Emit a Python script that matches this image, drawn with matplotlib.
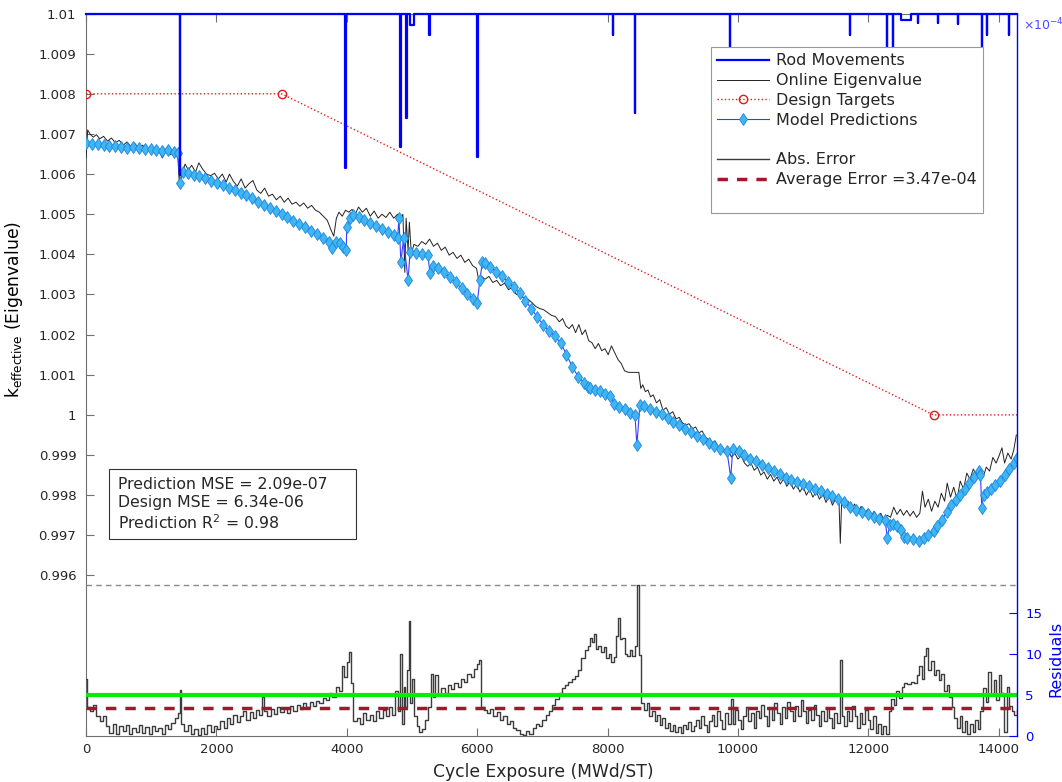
import numpy as np
import matplotlib.pyplot as plt
from matplotlib.lines import Line2D
from matplotlib.patches import Rectangle
from matplotlib.ticker import FormatStrFormatter

plt.rcParams["font.family"] = "DejaVu Sans"
plt.rcParams["mathtext.default"] = "regular"

# ----------------------------------------------------------------------
# data
# ----------------------------------------------------------------------
design_x = [0, 3000, 13000, 14280]
design_k = [1.008, 1.008, 1.000, 1.000]

# rod movement trace: baseline 1.01 with insertion dips
rod_base = 1.01
rod_spike_x = [1434, 3972, 4815, 4907, 4968, 5260, 5996, 8081, 8418, 9875,
               11715, 12283, 12375, 12497, 12758, 13065, 13371, 13739, 13816, 14153]
rod_spike_w = [10, 10, 10, 10, 60, 10, 10, 10, 10, 10,
               10, 10, 10, 154, 10, 10, 10, 10, 10, 10]
rod_spike_low = [1.00597, 1.00615, 1.00667, 1.00739, 1.00971, 1.00946, 1.00642, 1.00946, 1.00752, 1.0088,
                 1.00946, 1.0085, 1.0085, 1.00984, 1.00976, 1.00976, 1.00974, 1.00772, 1.00946, 1.00946]

online_x = [0, 25, 60, 110, 160, 210, 270, 330, 390, 450,
            510, 570, 630, 690, 750, 810, 870, 930, 990, 1050,
            1110, 1170, 1230, 1290, 1350, 1410, 1430, 1470, 1520, 1570,
            1620, 1680, 1730, 1790, 1850, 1910, 1970, 2030, 2090, 2150,
            2200, 2260, 2320, 2380, 2440, 2500, 2560, 2620, 2680, 2740,
            2800, 2860, 2920, 2980, 3040, 3100, 3160, 3220, 3280, 3340,
            3400, 3460, 3520, 3580, 3640, 3700, 3760, 3800, 3840, 3880,
            3930, 3980, 4030, 4080, 4130, 4180, 4240, 4300, 4360, 4420,
            4480, 4540, 4600, 4660, 4720, 4780, 4830, 4860, 4890, 4910,
            4940, 4960, 4990, 5030, 5090, 5150, 5210, 5270, 5330, 5390,
            5450, 5510, 5570, 5630, 5690, 5750, 5810, 5870, 5930, 5990,
            6030, 6070, 6120, 6180, 6240, 6300, 6360, 6420, 6480, 6540,
            6600, 6660, 6720, 6780, 6840, 6900, 6960, 7020, 7080, 7140,
            7200, 7260, 7310, 7360, 7410, 7460, 7510, 7560, 7610, 7660,
            7710, 7760, 7810, 7860, 7910, 7960, 8010, 8060, 8110, 8160,
            8210, 8260, 8320, 8400, 8480, 8510, 8540, 8580, 8620, 8660,
            8700, 8750, 8800, 8850, 8900, 8950, 9000, 9050, 9100, 9150,
            9200, 9250, 9300, 9350, 9400, 9450, 9500, 9550, 9600, 9650,
            9700, 9750, 9800, 9850, 9900, 9950, 10000, 10050, 10100, 10150,
            10200, 10250, 10300, 10350, 10400, 10450, 10500, 10550, 10600, 10650,
            10700, 10750, 10800, 10850, 10900, 10950, 11000, 11050, 11100, 11150,
            11200, 11250, 11300, 11350, 11400, 11450, 11500, 11550, 11570, 11590,
            11640, 11690, 11740, 11790, 11840, 11890, 11940, 11990, 12040, 12090,
            12140, 12190, 12240, 12290, 12340, 12390, 12440, 12490, 12540, 12590,
            12640, 12690, 12740, 12790, 12830, 12870, 12920, 12970, 13020, 13070,
            13120, 13170, 13210, 13260, 13310, 13360, 13410, 13460, 13510, 13560,
            13610, 13660, 13710, 13760, 13810, 13860, 13910, 13960, 14010, 14050,
            14090, 14140, 14190, 14230, 14270]
online_k = [1.00640, 1.00710, 1.00700, 1.00692, 1.00698, 1.00688, 1.00694, 1.00682, 1.00690, 1.00678,
            1.00684, 1.00672, 1.00680, 1.00668, 1.00676, 1.00664, 1.00672, 1.00658, 1.00668, 1.00654,
            1.00662, 1.00640, 1.00660, 1.00648, 1.00655, 1.00640, 1.00580, 1.00600, 1.00625, 1.00610,
            1.00622, 1.00605, 1.00628, 1.00612, 1.00600, 1.00596, 1.00602, 1.00588, 1.00600, 1.00580,
            1.00600, 1.00582, 1.00570, 1.00588, 1.00565, 1.00576, 1.00584, 1.00560, 1.00552, 1.00565,
            1.00545, 1.00550, 1.00536, 1.00545, 1.00530, 1.00540, 1.00525, 1.00530, 1.00520, 1.00528,
            1.00515, 1.00522, 1.00510, 1.00505, 1.00495, 1.00485, 1.00460, 1.00445, 1.00490, 1.00505,
            1.00495, 1.00510, 1.00505, 1.00512, 1.00500, 1.00518, 1.00505, 1.00515, 1.00495, 1.00508,
            1.00490, 1.00500, 1.00492, 1.00505, 1.00490, 1.00500, 1.00485, 1.00500, 1.00355, 1.00490,
            1.00410, 1.00480, 1.00400, 1.00425, 1.00420, 1.00432, 1.00425, 1.00438, 1.00420, 1.00428,
            1.00410, 1.00418, 1.00398, 1.00405, 1.00390, 1.00398, 1.00380, 1.00388, 1.00372, 1.00365,
            1.00330, 1.00345, 1.00338, 1.00345, 1.00330, 1.00335, 1.00322, 1.00328, 1.00312, 1.00318,
            1.00300, 1.00302, 1.00290, 1.00288, 1.00280, 1.00270, 1.00265, 1.00262, 1.00255, 1.00248,
            1.00245, 1.00232, 1.00240, 1.00222, 1.00215, 1.00225, 1.00205, 1.00225, 1.00200, 1.00212,
            1.00185, 1.00180, 1.00165, 1.00178, 1.00160, 1.00165, 1.00150, 1.00172, 1.00155, 1.00138,
            1.00128, 1.00110, 1.00106, 1.00106, 1.00106, 1.00066, 1.00075, 1.00058, 1.00062, 1.00045,
            1.00050, 1.00030, 1.00038, 1.00012, 1.00018, 1.00002, 1.00008, 0.99990, 0.99994, 0.99980,
            0.99975, 0.99978, 0.99965, 0.99970, 0.99955, 0.99960, 0.99945, 0.99938, 0.99930, 0.99935,
            0.99920, 0.99915, 0.99905, 0.99912, 0.99895, 0.99905, 0.99890, 0.99898, 0.99880, 0.99872,
            0.99880, 0.99862, 0.99870, 0.99850, 0.99858, 0.99840, 0.99852, 0.99835, 0.99845, 0.99828,
            0.99840, 0.99822, 0.99835, 0.99815, 0.99828, 0.99808, 0.99822, 0.99800, 0.99815, 0.99795,
            0.99810, 0.99790, 0.99805, 0.99782, 0.99798, 0.99775, 0.99792, 0.99785, 0.99680, 0.99780,
            0.99772, 0.99785, 0.99765, 0.99778, 0.99758, 0.99772, 0.99752, 0.99765, 0.99748, 0.99760,
            0.99742, 0.99755, 0.99738, 0.99750, 0.99745, 0.99770, 0.99752, 0.99765, 0.99750, 0.99762,
            0.99748, 0.99760, 0.99745, 0.99755, 0.99810, 0.99770, 0.99790, 0.99760, 0.99785, 0.99770,
            0.99805, 0.99785, 0.99830, 0.99795, 0.99820, 0.99790, 0.99835, 0.99815, 0.99855, 0.99840,
            0.99865, 0.99850, 0.99862, 0.99845, 0.99870, 0.99860, 0.99894, 0.99880, 0.99900, 0.99918,
            0.99880, 0.99905, 0.99890, 0.99912, 0.99950]

model_x = [0, 90, 180, 270, 360, 450, 540, 630, 720, 810,
           900, 990, 1080, 1170, 1260, 1350, 1410, 1440, 1480, 1560,
           1650, 1740, 1830, 1920, 2010, 2100, 2190, 2280, 2370, 2460,
           2550, 2640, 2730, 2820, 2910, 3000, 3090, 3180, 3270, 3360,
           3450, 3540, 3630, 3720, 3770, 3830, 3890, 3940, 3990, 4000,
           4050, 4090, 4180, 4270, 4360, 4450, 4540, 4630, 4720, 4780,
           4800, 4830, 4870, 4940, 4970, 5060, 5150, 5245, 5275, 5330,
           5400, 5490, 5580, 5670, 5760, 5850, 5930, 6000, 6040, 6080,
           6120, 6200, 6290, 6380, 6470, 6560, 6650, 6740, 6830, 6920,
           7010, 7100, 7190, 7280, 7370, 7460, 7550, 7640, 7700, 7730,
           7800, 7880, 7960, 8040, 8100, 8180, 8260, 8340, 8420, 8450,
           8495, 8560, 8650, 8740, 8830, 8920, 9010, 9100, 9190, 9280,
           9370, 9460, 9550, 9640, 9730, 9830, 9890, 9920, 10010, 10100,
           10190, 10280, 10370, 10460, 10550, 10640, 10730, 10820, 10910, 11000,
           11090, 11180, 11270, 11360, 11450, 11540, 11630, 11720, 11810, 11900,
           11990, 12080, 12170, 12260, 12290, 12330, 12380, 12440, 12500, 12540,
           12600, 12690, 12780, 12850, 12920, 13000, 13060, 13130, 13200, 13270,
           13340, 13410, 13480, 13550, 13620, 13700, 13720, 13740, 13770, 13820,
           13880, 13950, 14020, 14090, 14160, 14230, 14285]
model_k = [1.00677, 1.00675, 1.00676, 1.00672, 1.00670, 1.00671, 1.00668, 1.00666, 1.00667, 1.00664,
           1.00662, 1.00663, 1.00660, 1.00657, 1.00659, 1.00655, 1.00652, 1.00577, 1.00605, 1.00602,
           1.00598, 1.00596, 1.00590, 1.00584, 1.00578, 1.00572, 1.00566, 1.00560, 1.00553, 1.00547,
           1.00540, 1.00531, 1.00523, 1.00515, 1.00507, 1.00500, 1.00492, 1.00484, 1.00476, 1.00468,
           1.00459, 1.00450, 1.00440, 1.00430, 1.00416, 1.00432, 1.00428, 1.00418, 1.00410, 1.00468,
           1.00490, 1.00498, 1.00492, 1.00485, 1.00478, 1.00471, 1.00464, 1.00456, 1.00448, 1.00441,
           1.00490, 1.00380, 1.00440, 1.00335, 1.00405, 1.00403, 1.00401, 1.00398, 1.00353, 1.00372,
           1.00365, 1.00355, 1.00343, 1.00330, 1.00315, 1.00302, 1.00290, 1.00278, 1.00335, 1.00380,
           1.00378, 1.00368, 1.00357, 1.00345, 1.00332, 1.00318, 1.00303, 1.00285, 1.00265, 1.00244,
           1.00225, 1.00210, 1.00196, 1.00180, 1.00150, 1.00120, 1.00095, 1.00080, 1.00070, 1.00066,
           1.00063, 1.00060, 1.00052, 1.00047, 1.00028, 1.00020, 1.00014, 1.00006, 1.00000, 0.99924,
           1.00024, 1.00022, 1.00015, 1.00008, 1.00002, 0.99993, 0.99983, 0.99975, 0.99966, 0.99958,
           0.99948, 0.99939, 0.99930, 0.99923, 0.99916, 0.99911, 0.99844, 0.99916, 0.99910, 0.99900,
           0.99891, 0.99884, 0.99876, 0.99868, 0.99860, 0.99852, 0.99844, 0.99838, 0.99833, 0.99827,
           0.99822, 0.99816, 0.99811, 0.99804, 0.99797, 0.99790, 0.99782, 0.99770, 0.99764, 0.99758,
           0.99752, 0.99746, 0.99741, 0.99737, 0.99694, 0.99725, 0.99728, 0.99722, 0.99714, 0.99697,
           0.99694, 0.99690, 0.99687, 0.99694, 0.99700, 0.99712, 0.99722, 0.99738, 0.99758, 0.99775,
           0.99788, 0.99800, 0.99815, 0.99830, 0.99845, 0.99860, 0.99850, 0.99769, 0.99800, 0.99808,
           0.99816, 0.99825, 0.99836, 0.99850, 0.99865, 0.99880, 0.99893]

# absolute error, in units of 1e-4
resid_x = [0, 20, 60, 110, 160, 210, 260, 310, 360, 410,
           460, 510, 560, 610, 660, 710, 760, 810, 860, 910,
           960, 1010, 1060, 1110, 1160, 1210, 1260, 1310, 1360, 1410,
           1440, 1460, 1510, 1560, 1610, 1660, 1710, 1760, 1810, 1860,
           1910, 1960, 2010, 2060, 2110, 2160, 2210, 2260, 2310, 2360,
           2410, 2460, 2510, 2560, 2610, 2660, 2700, 2730, 2780, 2830,
           2880, 2930, 2980, 3030, 3080, 3130, 3180, 3230, 3280, 3330,
           3380, 3430, 3480, 3530, 3580, 3630, 3680, 3730, 3780, 3830,
           3880, 3920, 3960, 4000, 4030, 4060, 4100, 4150, 4200, 4250,
           4300, 4350, 4400, 4450, 4500, 4550, 4600, 4650, 4700, 4740,
           4780, 4810, 4840, 4870, 4900, 4930, 4955, 4975, 5000, 5030,
           5070, 5110, 5150, 5200, 5250, 5290, 5320, 5360, 5400, 5450,
           5500, 5550, 5600, 5650, 5700, 5750, 5800, 5850, 5900, 5950,
           6000, 6030, 6060, 6100, 6150, 6200, 6250, 6300, 6350, 6400,
           6450, 6500, 6550, 6600, 6650, 6700, 6750, 6800, 6850, 6900,
           6950, 7000, 7050, 7100, 7150, 7200, 7250, 7300, 7350, 7400,
           7450, 7500, 7550, 7600, 7650, 7700, 7730, 7760, 7790, 7820,
           7860, 7900, 7940, 7980, 8020, 8060, 8100, 8130, 8160, 8190,
           8220, 8260, 8300, 8340, 8380, 8420, 8450, 8480, 8520, 8560,
           8600, 8640, 8680, 8720, 8760, 8800, 8840, 8880, 8920, 8960,
           9000, 9040, 9080, 9120, 9160, 9200, 9240, 9280, 9320, 9360,
           9400, 9440, 9480, 9520, 9560, 9600, 9640, 9680, 9720, 9760,
           9800, 9840, 9890, 9920, 9960, 10000, 10040, 10080, 10120, 10160,
           10200, 10240, 10280, 10320, 10360, 10400, 10440, 10480, 10520, 10560,
           10600, 10640, 10680, 10720, 10760, 10800, 10840, 10880, 10920, 10960,
           11000, 11040, 11080, 11120, 11160, 11200, 11240, 11280, 11320, 11360,
           11400, 11440, 11480, 11520, 11560, 11590, 11630, 11670, 11710, 11750,
           11790, 11830, 11870, 11910, 11950, 11990, 12030, 12070, 12110, 12150,
           12190, 12230, 12270, 12310, 12350, 12390, 12430, 12470, 12510, 12550,
           12600, 12650, 12700, 12740, 12780, 12820, 12860, 12890, 12920, 12960,
           13000, 13040, 13080, 13120, 13160, 13200, 13240, 13280, 13320, 13360,
           13400, 13440, 13480, 13520, 13560, 13600, 13640, 13680, 13720, 13760,
           13800, 13840, 13880, 13920, 13960, 14000, 14040, 14080, 14120, 14160,
           14200, 14240, 14280]
resid_e = [7.0, 3.5, 3.0, 3.8, 2.5, 1.8, 2.4, 1.2, 0.4, 1.5,
           0.3, 1.2, 0.6, 1.4, 0.2, 1.0, 0.5, 1.3, 0.4, 1.1,
           0.3, 1.2, 0.6, 1.0, 0.2, 1.3, 0.8, 1.6, 2.2, 2.8,
           5.6, 1.5, 0.6, 1.4, 0.2, 0.8, 0.1, 1.0, 0.3, 1.4,
           0.5, 1.2, 0.8, 1.8, 1.0, 2.2, 1.5, 2.6, 1.7, 2.4,
           3.0, 2.0, 2.9, 2.2, 3.2, 2.6, 4.8, 3.0, 2.5, 3.3,
           2.7, 3.5, 2.9, 3.4, 2.8, 3.6, 3.1, 3.8, 3.3, 4.0,
           3.5, 4.1, 3.7, 4.3, 4.0, 4.6, 4.4, 5.3, 4.7, 6.0,
           5.5, 8.5, 7.2, 9.0, 10.3, 6.5, 1.8, 2.2, 1.5, 2.8,
           2.0, 2.6, 1.8, 3.0, 2.2, 3.2, 2.5, 3.5, 2.6, 5.5,
           3.0, 10.0, 1.5, 6.0, 3.5, 8.0, 14.0, 4.0, 7.0, 2.5,
           1.2, 0.5, 0.8, 2.0, 3.5, 7.6, 4.8, 7.4, 5.0, 5.8,
           5.3, 6.2, 5.7, 6.5, 6.0, 7.0, 6.6, 7.6, 7.2, 8.2,
           8.8, 9.3, 3.5, 3.2, 2.8, 3.3, 2.5, 2.9, 2.0, 2.4,
           1.5, 1.8, 1.0, 0.7, 0.3, 0.1, 0.6, 0.2, 1.0, 1.5,
           1.2, 2.0, 2.6, 3.0, 3.8, 4.5, 5.2, 5.8, 6.2, 6.6,
           7.0, 7.3, 8.0, 9.5, 10.5, 11.0, 12.0, 11.5, 12.4, 10.6,
           11.0, 10.2, 10.8, 9.5, 10.0, 9.0, 9.6, 12.2, 14.4, 11.8,
           12.0, 10.0, 9.7, 10.5, 9.8, 11.0, 18.4, 9.9, 4.0, 3.2,
           4.0, 2.5, 3.1, 1.8, 2.6, 1.4, 2.2, 1.0, 1.6, 0.6,
           1.3, 0.5, 1.1, 0.4, 1.4, 0.8, 1.7, 0.6, 1.2, 2.0,
           1.0, 2.4, 1.3, 0.5, 1.8, 2.6, 1.2, 3.0, 2.0, 0.8,
           2.8, 1.5, 4.5, 1.5, 3.2, 2.0, 0.8, 2.5, 3.5, 1.8,
           2.8, 1.0, 3.0, 2.2, 3.8, 2.5, 1.2, 3.4, 2.0, 4.0,
           2.8, 1.5, 3.5, 2.2, 4.2, 3.0, 1.8, 3.6, 2.5, 4.4,
           3.0, 1.6, 3.2, 2.0, 3.8, 2.6, 1.2, 3.0, 1.8, 3.4,
           2.2, 1.0, 2.8, 1.6, 9.3, 2.4, 1.2, 3.0, 1.8, 3.6,
           2.4, 1.0, 2.8, 1.5, 3.2, 2.0, 0.8, 2.5, 0.4, 1.5,
           0.2, 1.2, 0.3, 3.0, 4.5, 3.8, 5.5, 4.6, 6.0, 6.5,
           6.4, 6.6, 6.5, 7.5, 8.5, 7.0, 9.8, 10.7, 8.0, 9.2,
           7.4, 8.0, 6.8, 7.6, 5.5, 6.2, 4.8, 3.5, 2.2, 1.0,
           2.5, 0.5, 1.8, 0.3, 1.5, 0.5, 2.0, 0.8, 3.0, 5.8,
           4.2, 7.8, 5.0, 6.8, 4.4, 7.5, 5.2, 0.5, 6.0, 3.6,
           3.0, 2.6, 3.2]

avg_error = 3.47     # 1e-4
resid_limit = 5.0    # 1e-4

stats_lines = ["Prediction MSE = 2.09e-07",
               "Design MSE = 6.34e-06",
               "Prediction R$^{2}$ = 0.98"]

# ----------------------------------------------------------------------
# build the rod trace from the dip table
# ----------------------------------------------------------------------
rod_x, rod_k = [0], [rod_base]
for x, w, low in zip(rod_spike_x, rod_spike_w, rod_spike_low):
    rod_x += [x, x, x + w, x + w]
    rod_k += [rod_base, low, low, rod_base]
rod_x.append(14280)
rod_k.append(rod_base)

axis_grey = "#707070"
text_grey = "#262626"

fig = plt.figure(figsize=(10.62, 7.82), dpi=100)
ax = fig.add_axes([0.081, 0.0588, 0.8766, 0.9239])
ax.set_xlim(0, 14280)
ax.set_ylim(0.992, 1.01)

# --- eigenvalue panel -------------------------------------------------
h_rod, = ax.plot(rod_x, rod_k, color="#0000ff", lw=1.6, clip_on=False, zorder=5)
h_online, = ax.plot(online_x, online_k, color="#222222", lw=0.7, zorder=3)
h_design, = ax.plot(design_x, design_k, color="#e41a1c", lw=1.0, ls=":",
                    marker="o", markevery=[0, 1, 2], markersize=6,
                    mfc="none", mec="#e41a1c", mew=1.0, zorder=4)
h_model, = ax.plot(model_x, model_k, color="#3a3aff", lw=0.8,
                   marker="d", markersize=6.5, mfc="#3fb5f2", mec="#1c86e0",
                   mew=0.6, zorder=4)

ax.set_yticks(np.arange(0.996, 1.0105, 0.001))
ax.yaxis.set_major_formatter(FormatStrFormatter("%g"))
ax.set_xticks(np.arange(0, 14001, 2000))
ax.tick_params(axis="both", direction="in", length=6, color=axis_grey,
               labelcolor=text_grey, labelsize=9.5, width=0.8)
ax.tick_params(axis="x", top=True, pad=5)
ax.tick_params(axis="y", pad=7)
for side in ["left", "bottom", "top"]:
    ax.spines[side].set_color(axis_grey)
    ax.spines[side].set_linewidth(0.8)
ax.spines["right"].set_visible(False)

ax.set_xlabel("Cycle Exposure (MWd/ST)", fontsize=12.3, color=text_grey)
ax.xaxis.set_label_coords(0.491, -0.038)
ax.set_ylabel("k$_{effective}$ (Eigenvalue)", fontsize=12.3, color="black")
ax.yaxis.set_label_coords(-0.066, 0.59)

# stats box
ax.add_patch(Rectangle((0.0247, 0.2727), 0.2653, 0.0969, transform=ax.transAxes,
                       fill=False, edgecolor="#333333", lw=0.8, zorder=6))
ax.text(0.0344, 0.358, "\n".join(stats_lines), transform=ax.transAxes,
        ha="left", va="top", fontsize=11.3, color=text_grey, linespacing=1.2,
        zorder=7)

# --- residual panel (right axis) ---------------------------------------
ax2 = ax.twinx()
ax2.set_ylim(0, 88.1)
h_err, = ax2.step(resid_x, resid_e, where="post", color="#3c3c3c", lw=1.0)
ax2.axhline(resid_limit, color="#00ee00", lw=3.0)
h_avg = ax2.axhline(avg_error, color="#a3162e", lw=2.5, ls=(0, (3, 2.6)))
ax2.axhline(max(resid_e), color="#8a8a8a", lw=1.0, ls=(0, (4, 3)))

ax2.set_yticks([0, 5, 10, 15])
ax2.tick_params(axis="y", direction="in", length=6, color="#0000ff",
                labelcolor="#0000ff", labelsize=9.5, pad=6)
for side in ["left", "bottom", "top"]:
    ax2.spines[side].set_visible(False)
ax2.spines["right"].set_color("#0000ff")
ax2.spines["right"].set_linewidth(1.0)
ax2.set_ylabel("Residuals", fontsize=11.5, color="#0000ff")
ax2.yaxis.set_label_coords(1.0335, 0.107)
ax2.text(1.006, 0.984, r"$\times$10$^{-4}$", transform=ax2.transAxes,
         ha="left", va="center", fontsize=9, color="#4a4aff")

# legend with MATLAB-style blank rows
blank = Line2D([], [], color="none")
handles = [h_rod, h_online, h_design, h_model, blank, h_err, h_avg, blank]
labels = ["Rod Movements", "Online Eigenvalue", "Design Targets", "Model Predictions",
          " ", "Abs. Error", "Average Error =3.47e-04", " "]
leg = ax2.legend(handles, labels, loc="upper right", bbox_to_anchor=(0.9635, 0.9536),
                 borderaxespad=0, fontsize=11.5, handlelength=3.25, handletextpad=0.44,
                 borderpad=0.4, labelspacing=0.3, fancybox=False, framealpha=1,
                 edgecolor="#999999")
leg.get_frame().set_linewidth(0.8)
for t in leg.get_texts():
    t.set_color(text_grey)

fig.savefig("out.png", dpi=100)
